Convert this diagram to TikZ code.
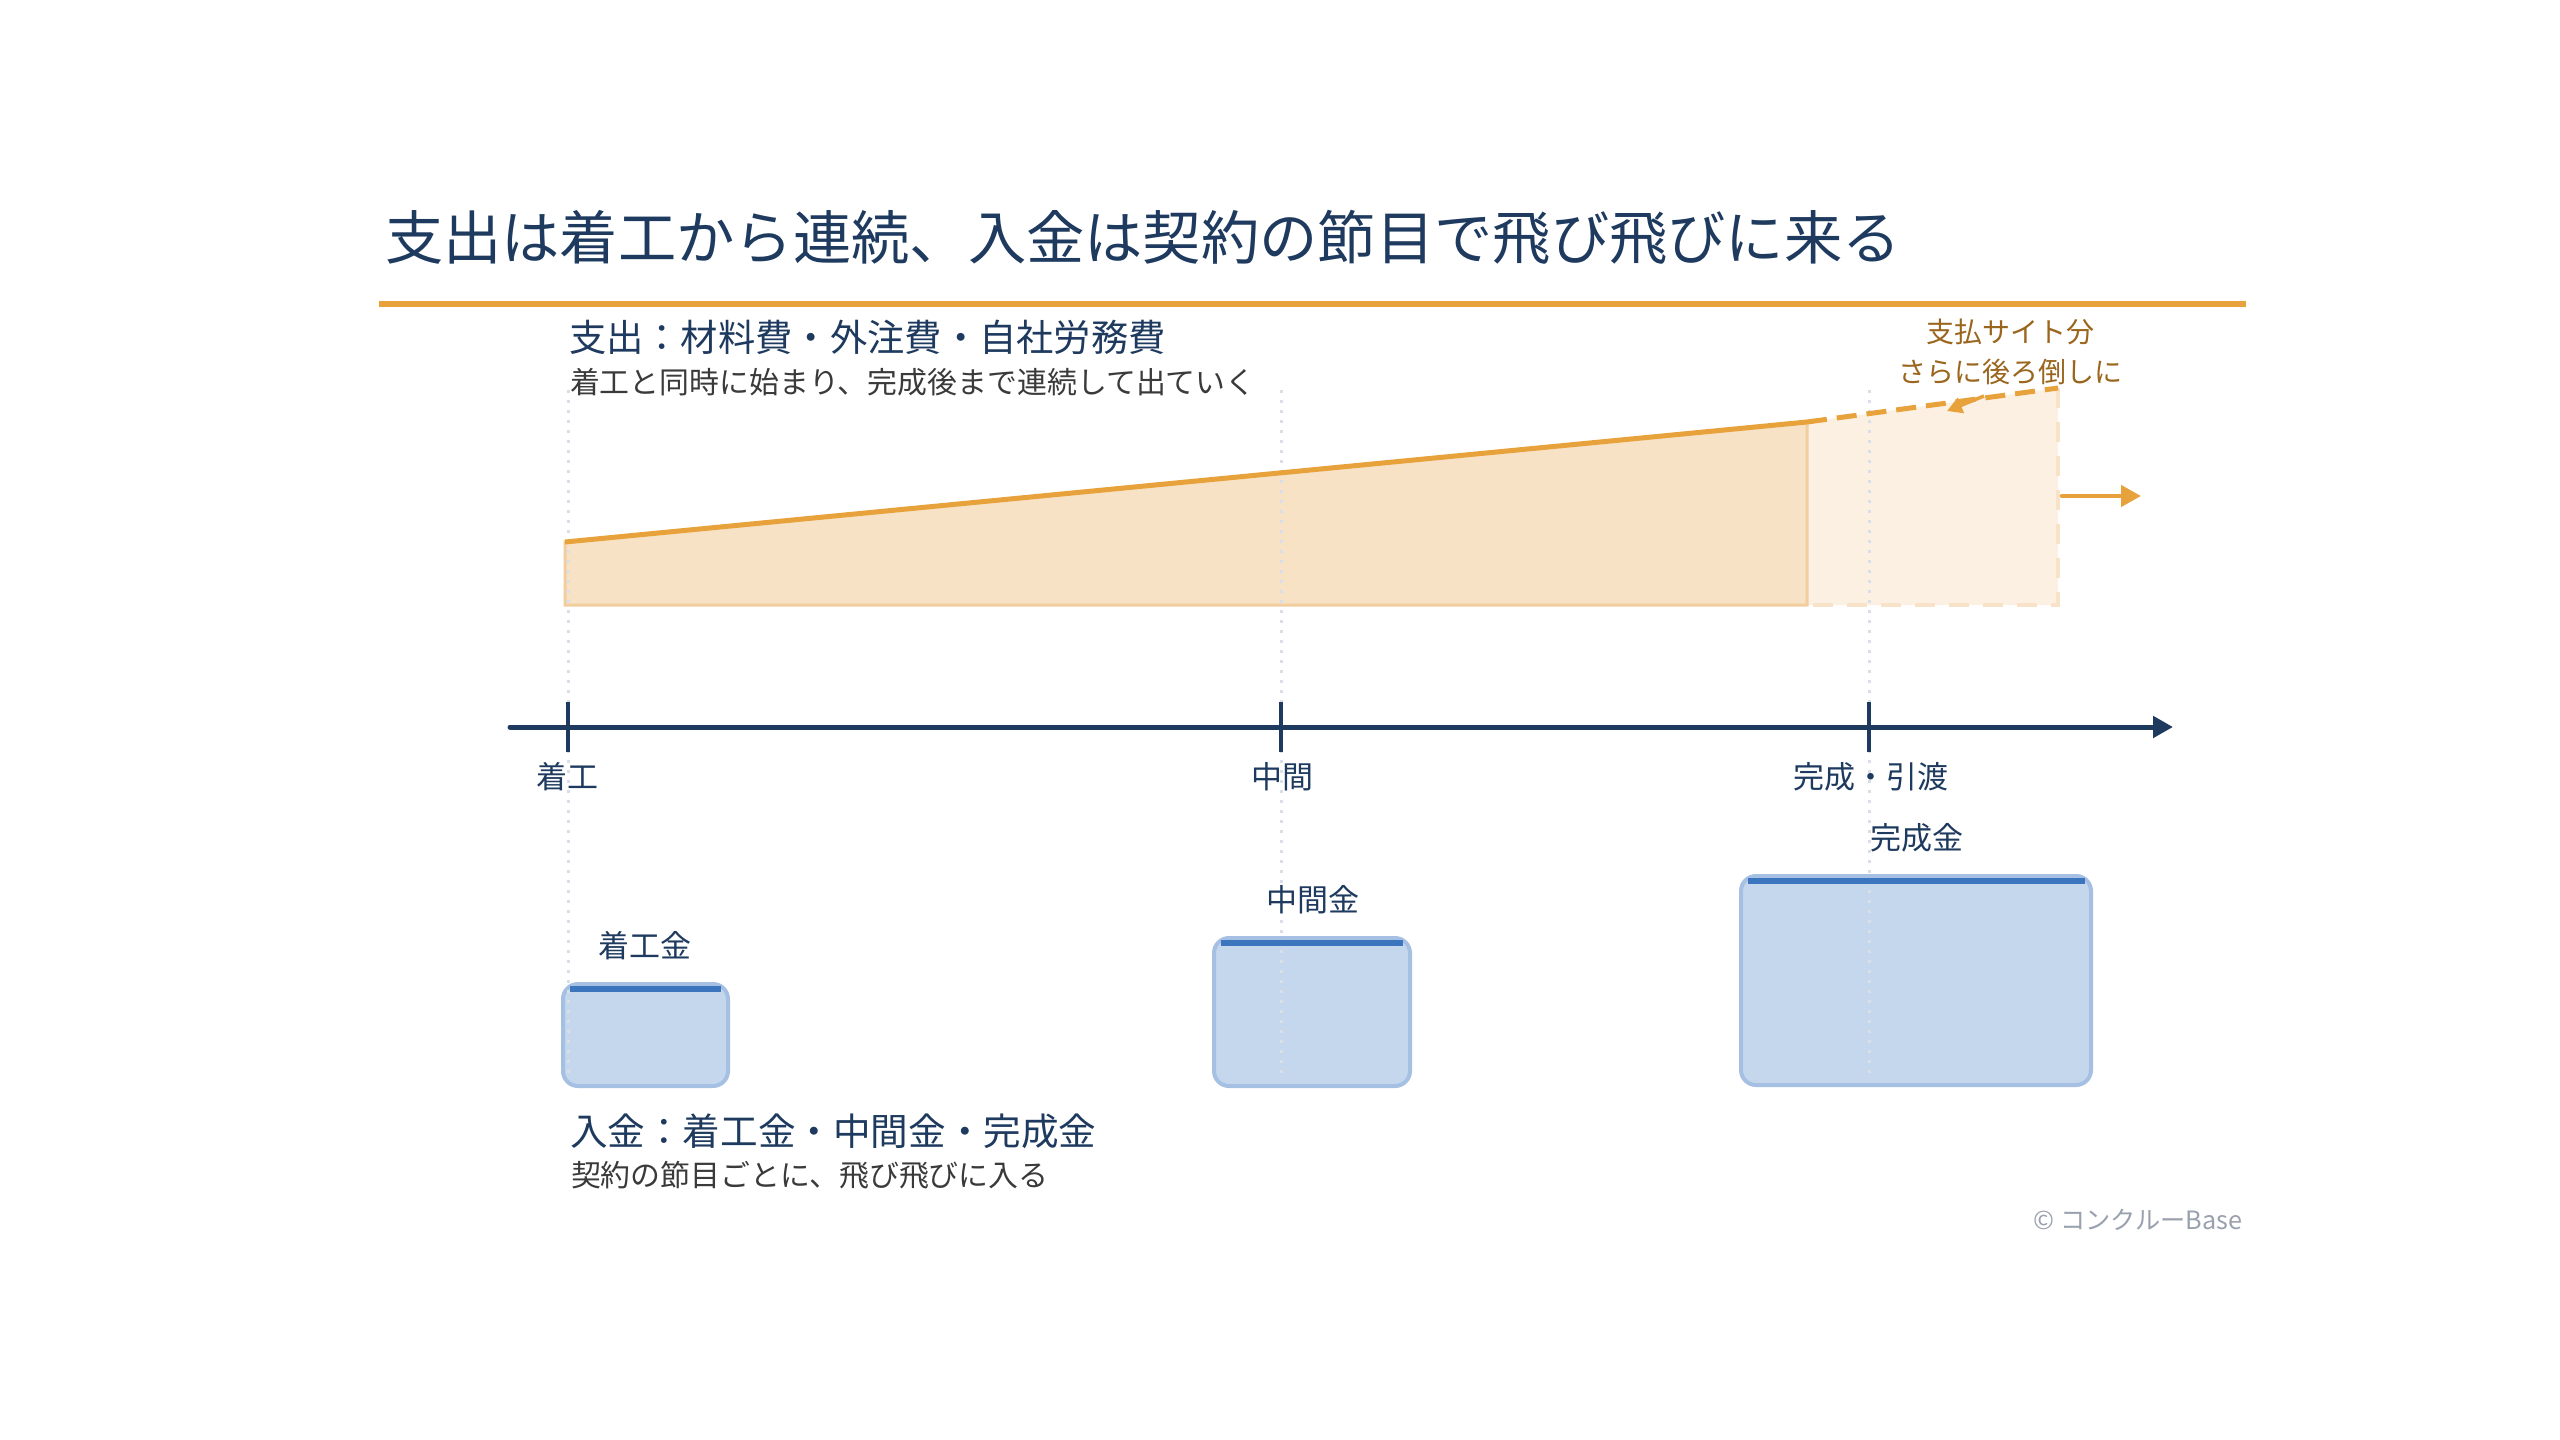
\documentclass[tikz,border=0pt]{standalone}
\usepackage{fontspec}
\setmainfont{Noto Sans CJK JP}
\usetikzlibrary{arrows.meta}
\definecolor{navy}{HTML}{1E3A5F}
\definecolor{bodygray}{HTML}{3A3A3A}
\definecolor{accent}{HTML}{E8A23C}
\definecolor{brownish}{HTML}{9A651C}
\definecolor{fillA}{HTML}{F7E2C5}
\definecolor{fillAedge}{HTML}{F2CE9F}
\definecolor{fillB}{HTML}{FBF0E2}
\definecolor{fillBedge}{HTML}{F8E3C8}
\definecolor{boxfill}{HTML}{C5D7EC}
\definecolor{boxedge}{HTML}{A5C0E2}
\definecolor{boxbar}{HTML}{3B75BD}
\definecolor{griddot}{HTML}{D9DFE8}
\definecolor{copygray}{HTML}{9AA1AE}
\newcommand{\fsz}[1]{\fontsize{#1pt}{#1pt}\selectfont}
\tikzset{
  txt/.style={inner sep=0pt, outer sep=0pt},
  gridline/.style={griddot, line width=3pt, dash pattern=on 3pt off 7pt},
  tickmark/.style={navy, line width=3.5pt},
  paybox/.style={draw=boxedge, fill=boxfill, line width=4pt, rounded corners=15pt},
  paybar/.style={fill=boxbar, draw=none},
  ticklabel/.style={txt, text=navy, font=\fsz{31}},
  boxlabel/.style={txt, text=navy, font=\fsz{31}},
}
\begin{document}
\begin{tikzpicture}[x=1pt,y=-1pt]
\useasboundingbox[fill=white] (0,0) rectangle (2560,1440);

% title and rule
\node[txt, anchor=west, text=navy, font=\fsz{58.3}] (title) at (385,237) {支出は着工から連続、入金は契約の節目で飛び飛びに来る};
\coordinate (ruleL) at (379,304);
\coordinate (ruleR) at (2246,304);
\draw[accent, line width=6pt] (ruleL) -- (ruleR);

% expense headings
\node[txt, anchor=west, text=navy, font=\fsz{37.3}] (exphead) at (569,337) {支出：材料費・外注費・自社労務費};
\node[txt, anchor=west, text=bodygray, font=\fsz{29.9}] (expsub) at (570,382) {着工と同時に始まり、完成後まで連続して出ていく};

% expense areas
\coordinate (eA) at (565,542);
\coordinate (eB) at (1807,422);
\coordinate (eC) at (2058,388);
\coordinate (eBb) at (1807,605);
\coordinate (eCb) at (2058,605);
\coordinate (eAb) at (565,605);
\fill[fillB] (eB) -- (eC) -- (eCb) -- (eBb) -- cycle;
\draw[fillBedge, line width=4pt, dash pattern=on 20pt off 14pt] (eC) -- (eCb) -- (eBb);
\draw[fillAedge, fill=fillA, line width=3pt] (eA) -- (eB) -- (eBb) -- (eAb) -- cycle;

% payment boxes
\draw[paybox] (563,984) rectangle (728,1086);
\draw[paybox] (1214,938) rectangle (1410,1086);
\draw[paybox] (1741,876) rectangle (2091,1085);

% grid lines
\foreach \gx/\gn in {568/gA,1281/gB,1869/gC}{
  \coordinate (\gn top) at (\gx,390);
  \coordinate (\gn bot) at (\gx,1080);
  \draw[gridline] (\gn top) -- (\gn bot);
}

% bars on boxes
\fill[paybar] (570,986) rectangle (721,992);
\fill[paybar] (1221,940) rectangle (1403,946);
\fill[paybar] (1748,878) rectangle (2085,884);

% expense lines
\draw[accent, line width=5pt] (eA) -- (eB);
\draw[accent, line width=5pt, dash pattern=on 20pt off 10pt] (eB) -- (eC);

% annotations
\node[txt, text=brownish, font=\fsz{28}] (note1) at (2010,332) {支払サイト分};
\node[txt, text=brownish, font=\fsz{28}] (note2) at (2010,372) {さらに後ろ倒しに};
\coordinate (arrS) at (1984,396);
\coordinate (arrE) at (1947,411);
\draw[accent, line width=3.5pt, -{Triangle[length=15pt,width=16pt]}] (arrS) -- (arrE);
\coordinate (rarS) at (2062,496);
\coordinate (rarE) at (2141,496);
\draw[accent, line width=4.5pt, line cap=round, -{Triangle[length=20pt,width=21pt]}] (rarS) -- (rarE);

% time axis
\coordinate (axL) at (510,727);
\coordinate (axR) at (2173,727);
\draw[navy, line width=5pt, line cap=round, -{Triangle[length=20pt,width=21pt]}] (axL) -- (axR);
\foreach \tx/\tn in {568/tA,1281/tB,1869/tC}{
  \coordinate (\tn top) at (\tx,702);
  \coordinate (\tn bot) at (\tx,752);
  \draw[tickmark] (\tn top) -- (\tn bot);
}
\node[ticklabel] (lblA) at (567,777) {着工};
\node[ticklabel] (lblB) at (1282,777) {中間};
\node[ticklabel] (lblC) at (1871,777) {完成・引渡};

% box labels
\node[boxlabel] (bA) at (645,946) {着工金};
\node[boxlabel] (bB) at (1313,900) {中間金};
\node[boxlabel] (bC) at (1917,838) {完成金};

% income headings
\node[txt, anchor=west, text=navy, font=\fsz{37.6}] (inchead) at (570,1131) {入金：着工金・中間金・完成金};
\node[txt, anchor=west, text=bodygray, font=\fsz{29.9}] (incsub) at (571,1175) {契約の節目ごとに、飛び飛びに入る};

% copyright
\node[txt, anchor=east, text=copygray, font=\fsz{25.2}] (copy) at (2242,1220) {© コンクルーBase};
\end{tikzpicture}
\end{document}
